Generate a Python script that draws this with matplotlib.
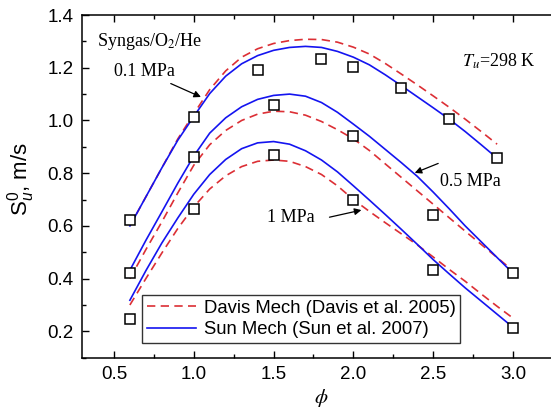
import matplotlib
matplotlib.use("Agg")
import matplotlib.pyplot as plt
from matplotlib.ticker import MultipleLocator

plt.rcParams['font.family'] = ['Liberation Sans', 'DejaVu Sans']
plt.rcParams['mathtext.fontset'] = 'custom'
plt.rcParams['mathtext.rm'] = 'Liberation Sans'
plt.rcParams['mathtext.it'] = 'Liberation Sans:italic'

# ---- data ----
phi_sim = [0.6, 0.7, 0.8, 0.9, 1.0, 1.1, 1.2, 1.3, 1.4, 1.5, 1.6, 1.7, 1.8,
           1.9, 2.0, 2.1, 2.2, 2.3, 2.4, 2.5, 2.6, 2.7, 2.8, 2.9, 3.0]

sun_01 = [0.60, 0.71, 0.82, 0.925, 1.015, 1.102, 1.168, 1.215, 1.246, 1.266, 1.277,
          1.281, 1.277, 1.262, 1.24, 1.211, 1.173, 1.132, 1.09, 1.048, 1.005,
          0.958, 0.908, 0.857]
davis_01 = [0.60, 0.71, 0.82, 0.93, 1.025, 1.117, 1.188, 1.24, 1.272, 1.292, 1.303,
            1.308, 1.307, 1.297, 1.278, 1.252, 1.216, 1.176, 1.135, 1.093, 1.05,
            1.005, 0.958, 0.91]

sun_05 = [0.432, 0.545, 0.653, 0.762, 0.865, 0.952, 1.01, 1.052, 1.08, 1.095, 1.10,
          1.092, 1.068, 1.031, 0.986, 0.94, 0.89, 0.84, 0.788, 0.728, 0.665,
          0.60, 0.54, 0.48, 0.42]
davis_05 = [0.40, 0.51, 0.615, 0.725, 0.83, 0.908, 0.962, 1.0, 1.024, 1.035, 1.033,
            1.02, 0.996, 0.965, 0.93, 0.886, 0.835, 0.784, 0.733, 0.682, 0.631,
            0.58, 0.53, 0.48, 0.43]

sun_1 = [0.318, 0.43, 0.535, 0.63, 0.72, 0.795, 0.852, 0.893, 0.915, 0.92, 0.91,
         0.885, 0.85, 0.805, 0.752, 0.698, 0.643, 0.587, 0.53, 0.472, 0.418,
         0.365, 0.315, 0.265, 0.215]
davis_1 = [0.30, 0.40, 0.497, 0.59, 0.672, 0.74, 0.79, 0.825, 0.845, 0.85, 0.845,
           0.825, 0.795, 0.752, 0.70, 0.655, 0.612, 0.57, 0.528, 0.482, 0.435,
           0.39, 0.342, 0.295, 0.25]

phi_exp_01 = [0.6, 1.0, 1.4, 1.8, 2.0, 2.3, 2.6, 2.9]
exp_01 = [0.622, 1.015, 1.19, 1.233, 1.202, 1.125, 1.004, 0.858]
phi_exp = [0.6, 1.0, 1.5, 2.0, 2.5, 3.0]
exp_05 = [0.42, 0.862, 1.06, 0.942, 0.641, 0.42]
exp_1 = [0.246, 0.666, 0.868, 0.70, 0.434, 0.214]

legend_labels = ['Davis Mech (Davis et al. 2005)', 'Sun Mech (Sun et al. 2007)']

# ---- figure ----
fig = plt.figure(figsize=(5.51, 4.09), dpi=100)
ax = fig.add_axes([0.1488, 0.1254, 0.8693, 0.8379])

red = '#DC2F35'
blue = '#1414F0'
dash = (0, (5, 3.2))

n01 = len(sun_01)
ax.plot(phi_sim[:n01], davis_01, color=red, lw=1.2, linestyle=dash, label=legend_labels[0])
ax.plot(phi_sim[:n01], sun_01, color=blue, lw=1.2, label=legend_labels[1])
ax.plot(phi_sim, davis_05, color=red, lw=1.2, linestyle=dash)
ax.plot(phi_sim, sun_05, color=blue, lw=1.2)
ax.plot(phi_sim, davis_1, color=red, lw=1.2, linestyle=dash)
ax.plot(phi_sim, sun_1, color=blue, lw=1.2)

mk = dict(marker='s', linestyle='none', markersize=7.2, markerfacecolor='white',
          markeredgecolor='black', markeredgewidth=1.1, zorder=5)
ax.plot(phi_exp_01, exp_01, **mk)
ax.plot(phi_exp, exp_05, **mk)
ax.plot(phi_exp, exp_1, **mk)

ax.set_xlim(0.3, 3.3)
ax.set_ylim(0.1, 1.4)
ax.xaxis.set_major_locator(MultipleLocator(0.5))
ax.xaxis.set_minor_locator(MultipleLocator(0.25))
ax.yaxis.set_major_locator(MultipleLocator(0.2))
ax.yaxis.set_minor_locator(MultipleLocator(0.1))
ax.tick_params(which='both', direction='in', top=True, right=False, labelsize=13.5, width=1)
ax.tick_params(which='major', length=5, pad=6)
ax.tick_params(which='minor', length=3)
ax.xaxis.set_major_formatter(plt.FormatStrFormatter('%.1f'))
ax.yaxis.set_major_formatter(plt.FormatStrFormatter('%.1f'))
for s in ax.spines.values():
    s.set_linewidth(1.1)

ax.set_xlabel(r'$\phi$', fontsize=15, math_fontfamily='stix', labelpad=3)
ax.set_ylabel(r'S$^{\it 0}_{\it u}$, m/s', fontsize=16)
ax.yaxis.set_label_coords(-0.093, 0.52)

serif = dict(family='Liberation Serif', fontsize=13)
ax.text(0.393, 1.298, r'Syngas/O$_2$/He', ha='left', va='center', math_fontfamily='stix', **serif)
ax.text(0.5, 1.187, '0.1 MPa', ha='left', va='center', **serif)
ax.text(2.68, 1.224, r'$T_u$=298 K', ha='left', va='center', math_fontfamily='stix', **serif)
ax.text(2.541, 0.767, '0.5 MPa', ha='left', va='center', **serif)
ax.text(1.461, 0.633, '1 MPa', ha='left', va='center', **serif)

ap = dict(arrowstyle='-|>', color='black', lw=0.9, mutation_scale=10, shrinkA=0, shrinkB=0)
ax.annotate('', xy=(1.045, 1.089), xytext=(0.856, 1.140), arrowprops=ap)
ax.annotate('', xy=(2.384, 0.801), xytext=(2.531, 0.837), arrowprops=ap)
ax.annotate('', xy=(2.05, 0.66), xytext=(1.850, 0.633), arrowprops=ap)

leg = ax.legend(loc='lower left', bbox_to_anchor=(0.2577, 0.1614), bbox_transform=fig.transFigure,
                borderaxespad=0, fancybox=False, framealpha=1, edgecolor='#333333',
                fontsize=13.3, handlelength=2.7, handletextpad=0.4, borderpad=0.25,
                labelspacing=0.25)
leg.get_frame().set_linewidth(1.0)

fig.savefig('out.png', dpi=100)
